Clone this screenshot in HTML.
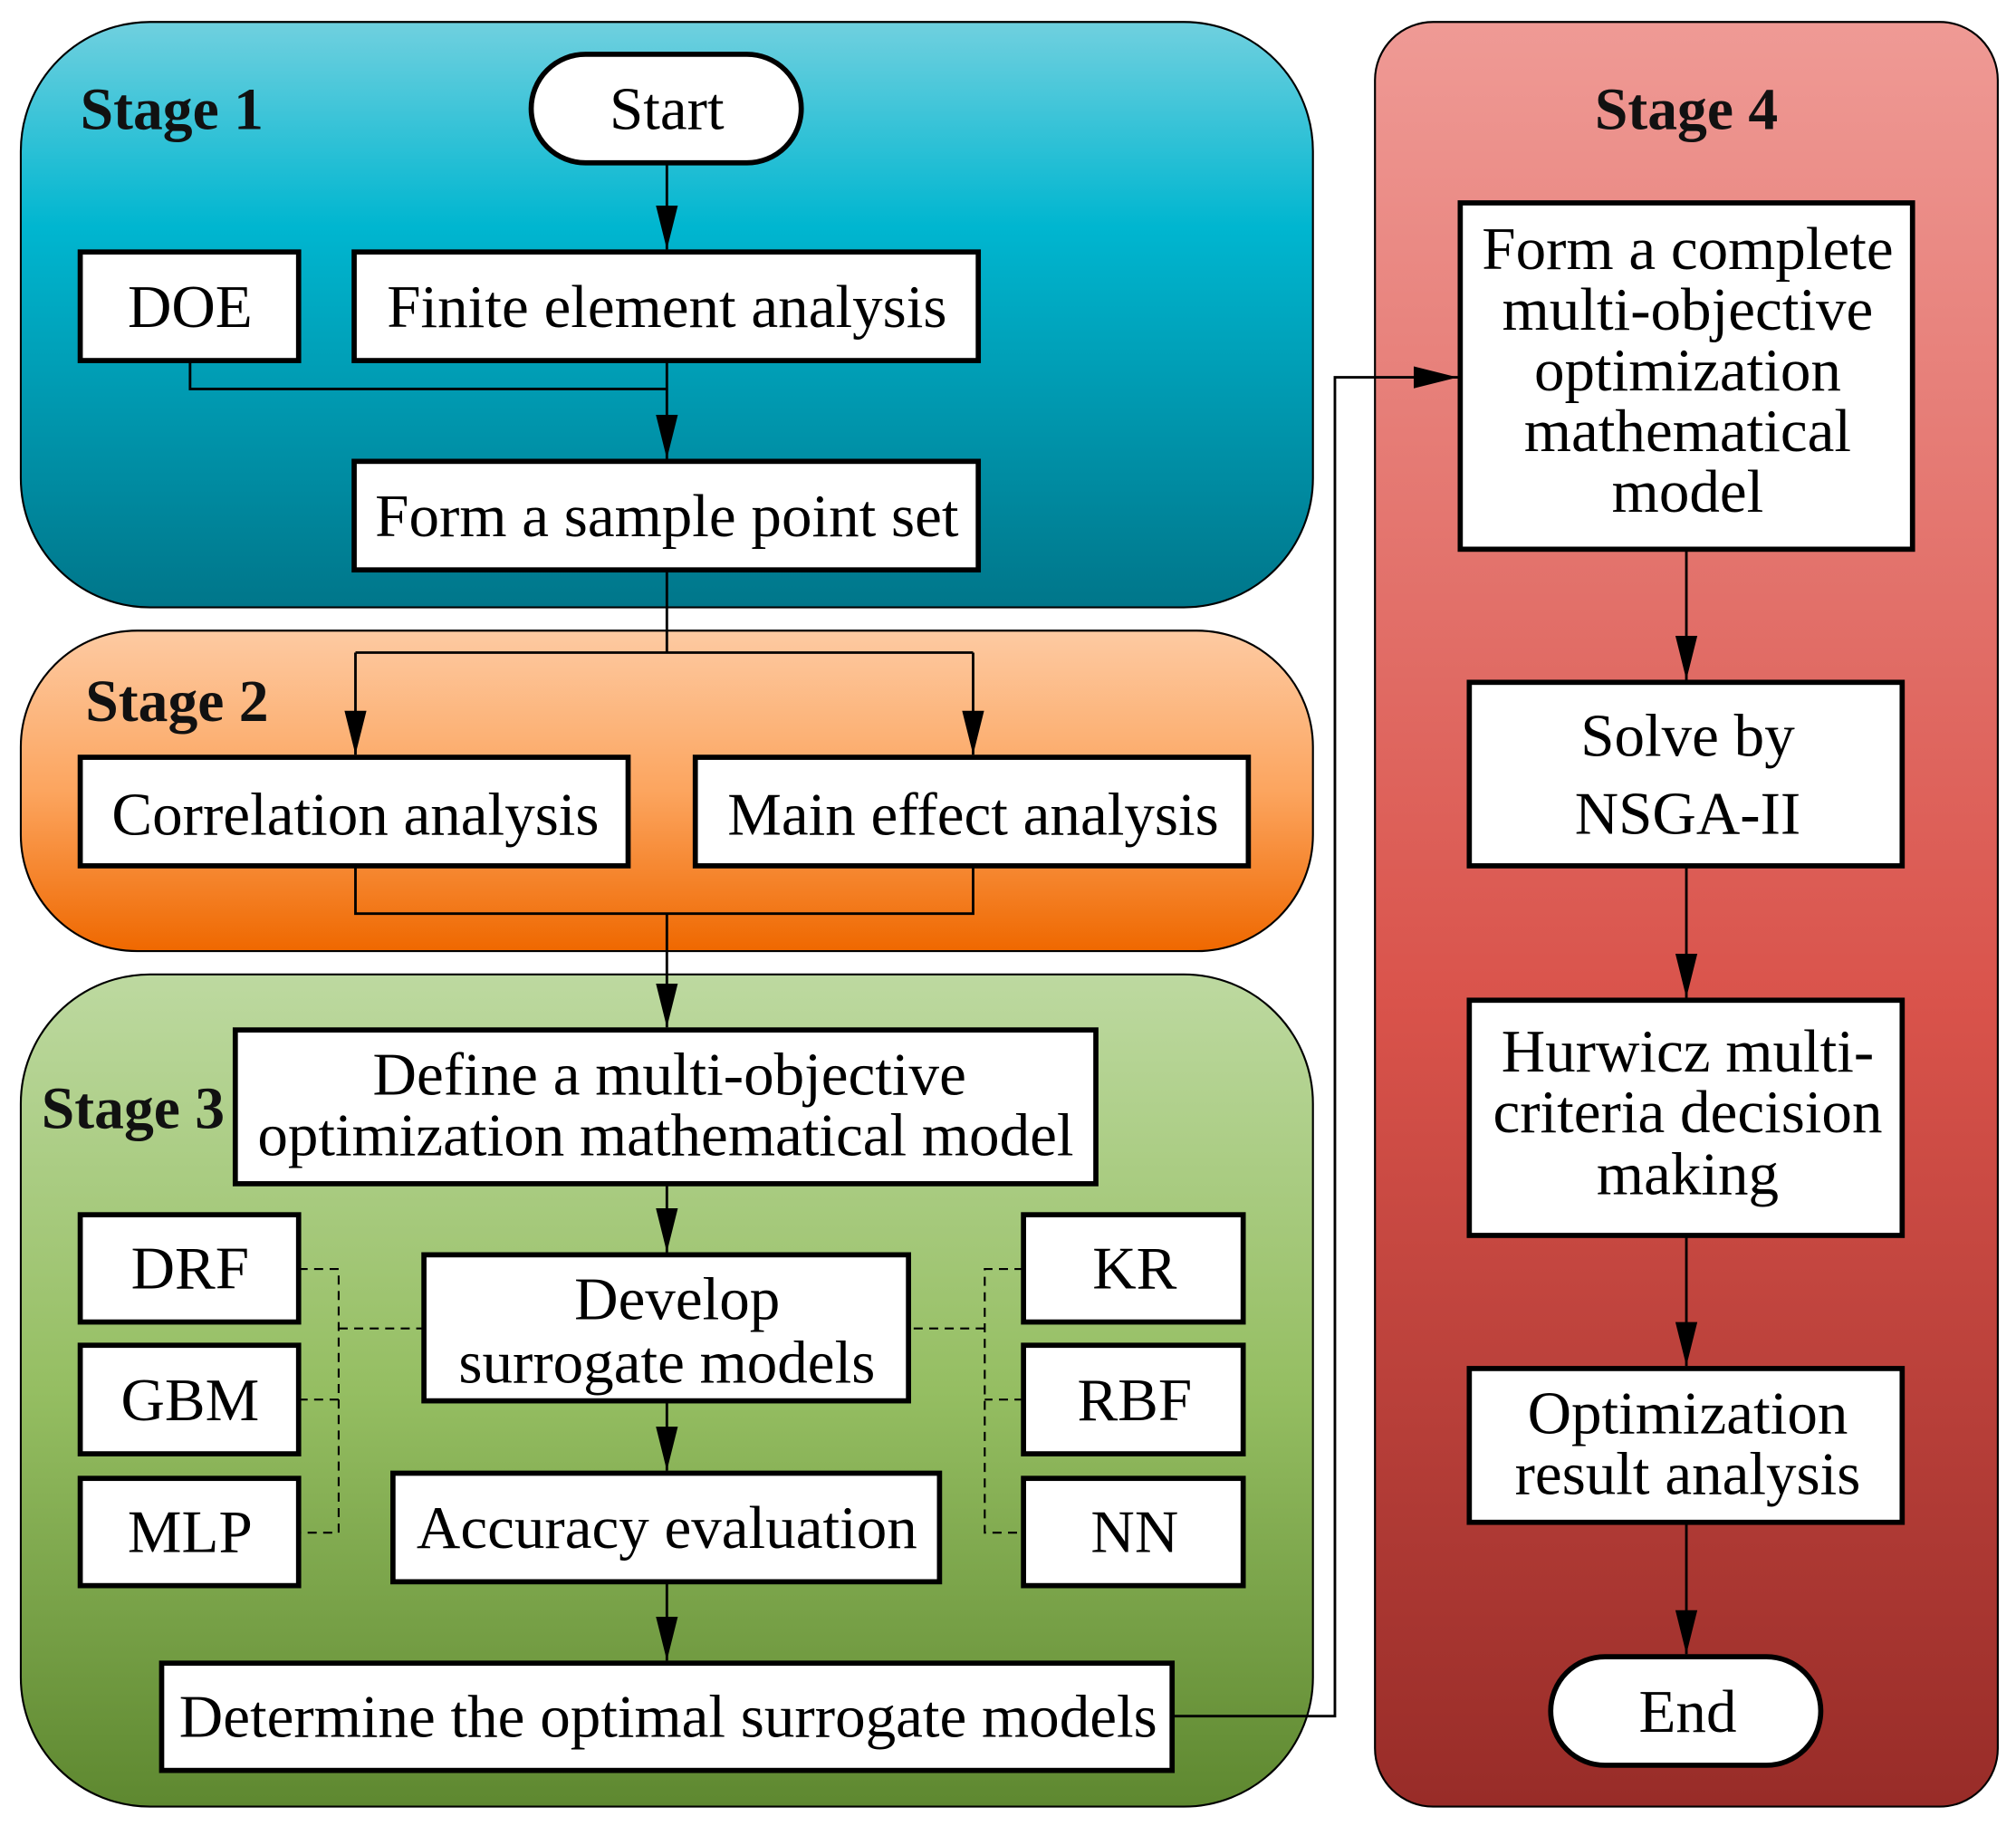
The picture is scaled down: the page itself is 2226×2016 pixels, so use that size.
<!DOCTYPE html>
<html><head><meta charset="utf-8"><style>html,body{margin:0;padding:0;background:#fff}svg{display:block}</style></head><body>
<svg width="2226" height="2016" viewBox="0 0 1560 1413" xmlns="http://www.w3.org/2000/svg" font-family="'Liberation Serif',serif">
<defs>
<linearGradient id="g1" x1="0" y1="0" x2="0" y2="1"><stop offset="0" stop-color="#70d0df"/><stop offset="0.35" stop-color="#00b6d0"/><stop offset="1" stop-color="#00768a"/></linearGradient>
<linearGradient id="g2" x1="0" y1="0" x2="0" y2="1"><stop offset="0" stop-color="#fdcaa2"/><stop offset="0.5" stop-color="#fca55f"/><stop offset="1" stop-color="#ef6800"/></linearGradient>
<linearGradient id="g3" x1="0" y1="0" x2="0" y2="1"><stop offset="0" stop-color="#bdd9a0"/><stop offset="0.5" stop-color="#95be62"/><stop offset="1" stop-color="#5e8830"/></linearGradient>
<linearGradient id="g4" x1="0" y1="0" x2="0" y2="1"><stop offset="0" stop-color="#ef9a95"/><stop offset="0.55" stop-color="#d9534b"/><stop offset="1" stop-color="#982c28"/></linearGradient>
<marker id="ar" viewBox="0 0 20 20" refX="20" refY="10" markerWidth="34" markerHeight="34" markerUnits="userSpaceOnUse" orient="auto"><path d="M0,5 L20,10 L0,15 z" fill="#000"/></marker>
</defs>
<rect x="16" y="17" width="1000" height="453" rx="100" fill="url(#g1)" stroke="#000" stroke-width="1.5"/>
<rect x="16" y="488" width="1000" height="248" rx="90" fill="url(#g2)" stroke="#000" stroke-width="1.5"/>
<rect x="16" y="754" width="1000" height="644" rx="100" fill="url(#g3)" stroke="#000" stroke-width="1.5"/>
<rect x="1064" y="17" width="482" height="1381" rx="45" fill="url(#g4)" stroke="#000" stroke-width="1.5"/>
<g font-weight="bold" font-size="46" fill="#111">
<text x="62" y="100">Stage 1</text><text x="66" y="558">Stage 2</text><text x="32" y="873">Stage 3</text><text x="1305" y="100" text-anchor="middle">Stage 4</text>
</g>
<g fill="none" stroke="#000" stroke-width="2">
<path d="M516 126V193" marker-end="url(#ar)"/>
<path d="M147 279V301H516M516 279V355" marker-end="url(#ar)"/>
<path d="M516 441V505M275 505H753"/>
<path d="M275 505V584" marker-end="url(#ar)"/><path d="M753 505V584" marker-end="url(#ar)"/>
<path d="M275 670V707H753V670M516 707V795" marker-end="url(#ar)"/>
<path d="M516 916V969" marker-end="url(#ar)"/>
<path d="M516 1084V1138" marker-end="url(#ar)"/>
<path d="M516 1224V1285" marker-end="url(#ar)"/>
<path d="M907 1328H1033V292H1128" marker-end="url(#ar)"/>
<path d="M1305 425V526" marker-end="url(#ar)"/>
<path d="M1305 670V772" marker-end="url(#ar)"/>
<path d="M1305 956V1057" marker-end="url(#ar)"/>
<path d="M1305 1178V1280" marker-end="url(#ar)"/>
</g>
<g fill="none" stroke="#000" stroke-width="1.5" stroke-dasharray="7,5">
<path d="M231 982H262V1186H231M231 1083H262M262 1028H328"/>
<path d="M792 982H762V1186H792M792 1083H762M762 1028H703"/>
</g>
<g fill="#fff" stroke="#000" stroke-width="4">
<rect x="411" y="42" width="209" height="84" rx="42"/>
<rect x="62" y="195" width="169" height="84"/><rect x="274" y="195" width="483" height="84"/>
<rect x="274" y="357" width="483" height="84"/>
<rect x="62" y="586" width="424" height="84"/><rect x="538" y="586" width="428" height="84"/>
<rect x="182" y="797" width="666" height="119"/>
<rect x="62" y="940" width="169" height="83"/><rect x="62" y="1041" width="169" height="84"/><rect x="62" y="1144" width="169" height="83"/>
<rect x="328" y="971" width="375" height="113"/><rect x="304" y="1140" width="423" height="84"/>
<rect x="792" y="940" width="170" height="83"/><rect x="792" y="1041" width="170" height="84"/><rect x="792" y="1144" width="170" height="83"/>
<rect x="125" y="1287" width="782" height="83"/>
<rect x="1130" y="157" width="350" height="268"/>
<rect x="1137" y="528" width="335" height="142"/>
<rect x="1137" y="774" width="335" height="182"/>
<rect x="1137" y="1059" width="335" height="119"/>
<rect x="1200" y="1282" width="209" height="84" rx="42"/>
</g>
<g font-size="47" fill="#000" text-anchor="middle">
<text x="516" y="100">Start</text>
<text x="147" y="253">DOE</text><text x="516" y="253">Finite element analysis</text>
<text x="516" y="415">Form a sample point set</text>
<text x="275" y="646">Correlation analysis</text><text x="753" y="646">Main effect analysis</text>
<text x="518" y="847">Define a multi-objective</text><text x="515" y="894">optimization mathematical model</text>
<text x="147" y="997">DRF</text><text x="147" y="1099">GBM</text><text x="147" y="1201">MLP</text>
<text x="524" y="1021">Develop</text><text x="516" y="1070">surrogate models</text>
<text x="516" y="1198">Accuracy evaluation</text>
<text x="878" y="997">KR</text><text x="878" y="1099">RBF</text><text x="878" y="1201">NN</text>
<text x="517" y="1344">Determine the optimal surrogate models</text>
<text x="1306" y="208">Form a complete</text><text x="1306" y="255">multi-objective</text><text x="1306" y="302">optimization</text><text x="1306" y="349">mathematical</text><text x="1306" y="396">model</text>
<text x="1306" y="585">Solve by</text><text x="1306" y="645">NSGA-II</text>
<text x="1306" y="829">Hurwicz multi-</text><text x="1306" y="876">criteria decision</text><text x="1306" y="924">making</text>
<text x="1306" y="1109">Optimization</text><text x="1306" y="1156">result analysis</text>
<text x="1306" y="1340">End</text>
</g>
</svg>
</body></html>
